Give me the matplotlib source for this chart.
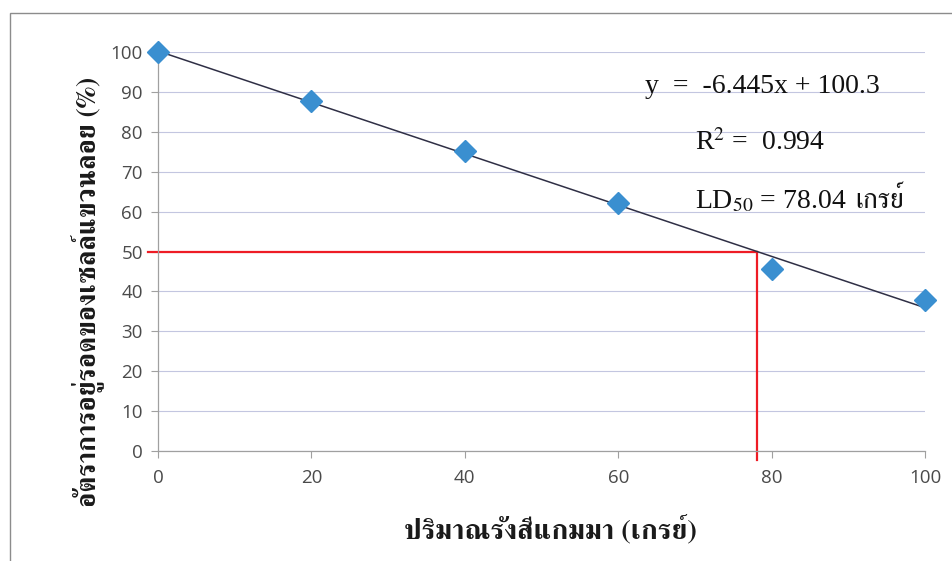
import matplotlib
matplotlib.use("Agg")
import matplotlib.pyplot as plt
from matplotlib import font_manager
from matplotlib.patches import Rectangle
import numpy as np

# ข้อมูล
dose_gy = [0, 20, 40, 60, 80, 100]
survival_pct = [100, 87.7, 75.2, 62.2, 45.6, 37.8]
ld50 = 78.04
ld_level = 50
x_ticks = [0, 20, 40, 60, 80, 100]
y_ticks = [0, 10, 20, 30, 40, 50, 60, 70, 80, 90, 100]

eq_text = "y  =  -6.445x + 100.3"
r2_text = "R$^{2}$ =  0.994"
ld_text = "LD$_{50}$ = 78.04"
ld_unit = "เกรย์"
x_label = "ปริมาณรังสีแกมมา (เกรย์)"
y_label = "อัตราการอยู่รอดของเซลล์แขวนลอย (%)"


def find_thai_font():
    """หา font ที่มีอักษรไทย ถ้าไม่มีคืน None"""
    found = []
    for f in font_manager.fontManager.ttflist:
        try:
            cmap = font_manager.get_font(f.fname).get_charmap()
        except Exception:
            continue
        if 0x0E01 in cmap:
            found.append(f.name)
    if not found:
        return None
    for pref in ("Serif", "Sarabun", "Loma", "Garuda", "Thai"):
        for name in found:
            if pref in name:
                return name
    return found[0]


thai = find_thai_font()
serif_fam = ["Liberation Serif", "DejaVu Serif"]
label_fam = ([thai] if thai else []) + ["Liberation Serif", "DejaVu Sans"]
unit_fam = ([thai] if thai else []) + ["Liberation Serif", "DejaVu Sans"]

plt.rcParams["mathtext.fontset"] = "stix"

fig = plt.figure(figsize=(9.52, 5.61), dpi=100)
ax = fig.add_axes([0.166, 0.196, 0.8057, 0.7112])

# กรอบนอกของกราฟ
fig.patches.append(Rectangle((10 / 952, -0.05), 1.1, 548 / 561 + 0.05,
                             transform=fig.transFigure, fill=False,
                             edgecolor="#8c8c8c", lw=1.0))

# เส้นแนวโน้ม
slope, intercept = np.polyfit(dose_gy, survival_pct, 1)
xs = np.array([dose_gy[0], dose_gy[-1]])
ax.plot(xs, slope * xs + intercept, color="#2f2f45", lw=1.1, zorder=3,
        clip_on=False)

# เส้นสีแดงที่ LD50
over = 1.3
ax.plot([-over, ld50], [ld_level, ld_level], color="#ee1c25", lw=1.6,
        zorder=2, clip_on=False)
ax.plot([ld50, ld50], [ld_level, -2.3], color="#ee1c25", lw=1.6,
        zorder=2, clip_on=False)

ax.plot(dose_gy, survival_pct, linestyle="none", marker="D", markersize=11,
        color="#3a8fd0", markeredgecolor="#3a8fd0", zorder=4, clip_on=False)

ax.set_xlim(0, 100)
ax.set_ylim(0, 100)
ax.set_xticks(x_ticks)
ax.set_yticks(y_ticks)
ax.grid(axis="y", color="#c3c6e0", lw=0.8)
ax.set_axisbelow(True)
for s in ("top", "right"):
    ax.spines[s].set_visible(False)
for s in ("left", "bottom"):
    ax.spines[s].set_color("#a0a0a0")
    ax.spines[s].set_linewidth(0.9)
ax.tick_params(axis="both", colors="#a0a0a0", labelcolor="#4a4a4a",
               length=5, width=0.8, labelsize=13.5)
ax.tick_params(axis="x", pad=8)
ax.tick_params(axis="y", pad=6)
for lab in ax.get_xticklabels() + ax.get_yticklabels():
    lab.set_family(["Open Sans", "DejaVu Sans"])

ax.set_xlabel(x_label, family=label_fam, fontsize=20.5, fontweight="bold",
              color="#1a1a1a", va="center")
ax.xaxis.set_label_coords(0.512, -0.198)
ax.set_ylabel(y_label, family=label_fam, fontsize=19.5, fontweight="bold",
              color="#1a1a1a", va="center")
ax.yaxis.set_label_coords(-0.0926, 0.398)

ax.text(0.635, 0.897, eq_text, transform=ax.transAxes, family=serif_fam,
        fontsize=20, va="baseline", color="#111111")
ax.text(0.700, 0.754, r2_text, transform=ax.transAxes, family=serif_fam,
        fontsize=20, va="baseline", color="#111111")
t_ld = ax.text(0.700, 0.609, ld_text, transform=ax.transAxes,
               family=serif_fam, fontsize=20, va="baseline", color="#111111")
ax.annotate(ld_unit, xy=(1, 0), xycoords=t_ld, xytext=(6, 0),
            textcoords="offset points", family=unit_fam,
            fontsize=20, va="bottom", ha="left", color="#111111")

fig.savefig("out.png", dpi=100, facecolor="white")
